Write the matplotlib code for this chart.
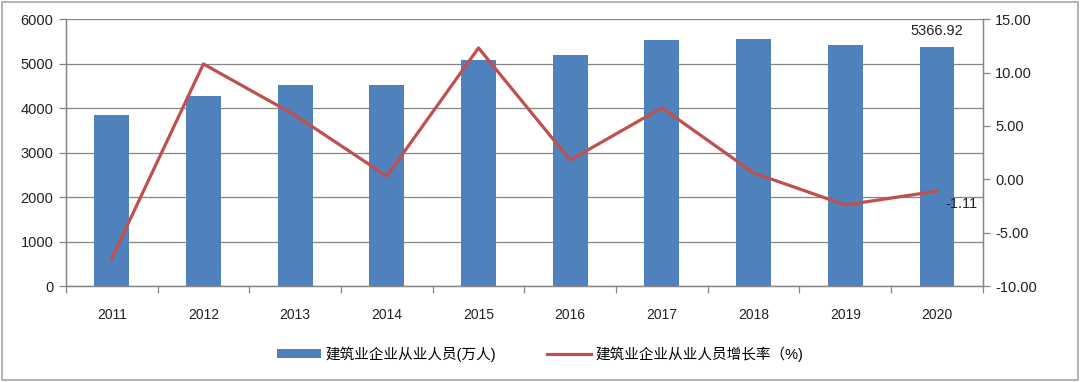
import matplotlib.pyplot as plt
from matplotlib.ticker import FormatStrFormatter, FixedLocator, NullFormatter

plt.rcParams['font.family'] = ['Liberation Sans', 'Noto Sans CJK SC', 'DejaVu Sans']

# data
years = ['2011', '2012', '2013', '2014', '2015', '2016', '2017', '2018', '2019', '2020']
employees = [3852, 4272, 4517, 4517, 5071, 5184, 5521, 5544, 5409, 5366.92]
growth = [-7.4, 10.8, 6.0, 0.3, 12.3, 1.8, 6.7, 0.6, -2.4, -1.11]

bar_label = '建筑业企业从业人员(万人)'
line_label = '建筑业企业从业人员增长率（%)'

bar_color = '#4F81BD'
line_color = '#C0504D'
axis_color = '#868686'

fig = plt.figure(figsize=(10.8, 3.82), dpi=100)
ax = fig.add_axes([0.061, 0.251, 0.849, 0.699])
ax2 = ax.twinx()

x = list(range(len(years)))
bars = ax.bar(x, employees, width=0.38, color=bar_color, zorder=2, label=bar_label)
line, = ax2.plot(x, growth, color=line_color, lw=2.3, zorder=3, label=line_label)

ax.set_xlim(-0.5, len(years) - 0.5)
ax.set_ylim(0, 6000)
ax.set_yticks(range(0, 6001, 1000))
ax2.set_ylim(-10, 15)
ax2.set_yticks(range(-10, 16, 5))
ax2.yaxis.set_major_formatter(FormatStrFormatter('%.2f'))

ax.set_zorder(ax2.get_zorder() - 1)
ax.patch.set_visible(False)
ax.grid(axis='y', color=axis_color, lw=0.9, zorder=0)

# category boundary ticks on x axis
ax.set_xticks(x)
ax.set_xticklabels(years)
ax.tick_params(axis='x', length=0, pad=16, labelsize=10, colors='#222222')
ax.xaxis.set_minor_locator(FixedLocator([i + 0.5 for i in range(-1, len(years))]))
ax.xaxis.set_minor_formatter(NullFormatter())
ax.tick_params(axis='x', which='minor', length=5, color=axis_color, width=0.9)

ax.tick_params(axis='y', length=5, color=axis_color, width=0.9, labelsize=10.5, pad=4, labelcolor='#222222')
ax2.tick_params(axis='y', length=5, color=axis_color, width=0.9, labelsize=10.5, pad=4, labelcolor='#222222')

for a in (ax, ax2):
    a.spines['top'].set_visible(False)
    for s in ('left', 'right', 'bottom'):
        a.spines[s].set_color(axis_color)
        a.spines[s].set_linewidth(0.9)

# data labels on last point
ax.annotate('5366.92', (x[-1], employees[-1]), xytext=(0, 12), textcoords='offset points',
            ha='center', va='center', fontsize=10.5, color='#222222')
ax2.annotate('-1.11', (x[-1], growth[-1]), xytext=(6, -4), textcoords='offset points',
             ha='left', va='top', fontsize=10.5, color='#222222')

fig.legend([bars, line], [bar_label, line_label], loc='center', bbox_to_anchor=(0.5, 0.073),
           ncol=2, frameon=False, fontsize=10.5, handlelength=3.0, handleheight=0.6,
           columnspacing=3.5, handletextpad=0.3)

# outer frame
fig.patches.append(plt.Rectangle((0.002, 0.005), 0.996, 0.99, transform=fig.transFigure,
                                 fill=False, edgecolor='#A6A6A6', lw=1.2))

fig.savefig('out.png', dpi=100)
